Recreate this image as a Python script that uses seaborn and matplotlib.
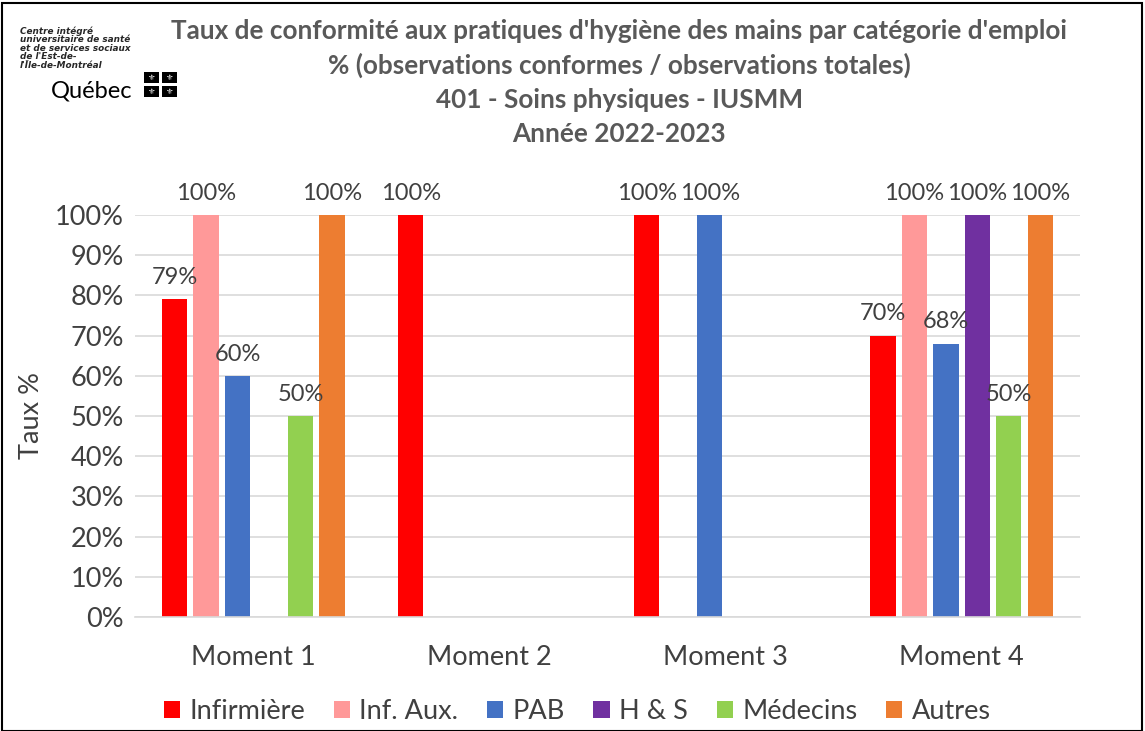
import numpy as np
import pandas as pd
import matplotlib.pyplot as plt
import seaborn as sns
from matplotlib.patches import Rectangle

moments = ["Moment 1", "Moment 2", "Moment 3", "Moment 4"]
categories = ["Infirmière", "Inf. Aux.", "PAB", "H & S", "Médecins", "Autres"]
colors = ["#FF0000", "#FF9999", "#4472C4", "#7030A0", "#92D050", "#ED7D31"]

# taux par catégorie (lignes) et par moment (colonnes), NaN = pas d'observation
infirmiere = [0.79, 1.00, 1.00, 0.70]
inf_aux = [1.00, np.nan, np.nan, 1.00]
pab = [0.60, np.nan, 1.00, 0.68]
h_s = [np.nan, np.nan, np.nan, 1.00]
medecins = [0.50, np.nan, np.nan, 0.50]
autres = [1.00, np.nan, np.nan, 1.00]

series = [infirmiere, inf_aux, pab, h_s, medecins, autres]
rows = []
for cat, vals in zip(categories, series):
    for m, v in zip(moments, vals):
        if not np.isnan(v):
            rows.append({"Moment": m, "Catégorie": cat, "Taux": v})
df = pd.DataFrame(rows)

sns.set_style("white")
plt.rcParams["font.family"] = ["Lato", "DejaVu Sans"]

fig = plt.figure(figsize=(11.45, 7.31), dpi=100)
ax = fig.add_axes([0.118, 0.156, 0.825, 0.55])

sns.barplot(data=df, x="Moment", y="Taux", hue="Catégorie", order=moments,
            hue_order=categories, palette=colors, saturation=1, width=0.8,
            gap=0.2, linewidth=0, ax=ax, legend=True)

for cont in ax.containers:
    ax.bar_label(cont, fmt=lambda v: f"{v:.0%}", padding=8, fontsize=17,
                 color="#404040")

ax.set_ylim(0, 1)
ax.set_yticks(np.arange(0, 1.01, 0.1))
ax.set_yticklabels([f"{int(t)}%" for t in np.arange(0, 101, 10)])
ax.tick_params(axis="both", labelsize=19.5, labelcolor="#404040", length=0)
ax.tick_params(axis="x", pad=20)
ax.tick_params(axis="y", pad=8)
ax.yaxis.grid(True, color="#D9D9D9", linewidth=1.2)
ax.set_axisbelow(True)
for s in ["top", "right", "left"]:
    ax.spines[s].set_visible(False)
ax.spines["bottom"].set_color("#D9D9D9")
ax.spines["bottom"].set_linewidth(1.2)
ax.set_xlabel("")
ax.set_ylabel("Taux %", fontsize=19.5, color="#404040", labelpad=8)

leg = ax.legend(loc="center", bbox_to_anchor=(0.468, -0.235), ncol=6,
                frameon=False, fontsize=19.5, handlelength=0.6,
                handleheight=0.6, columnspacing=1.05, handletextpad=0.35)
for t in leg.get_texts():
    t.set_color("#404040")

title_lines = [
    "Taux de conformité aux pratiques d'hygiène des mains par catégorie d'emploi",
    "% (observations conformes / observations totales)",
    "401 - Soins physiques - IUSMM",
    "Année 2022-2023",
]
for i, line in enumerate(title_lines):
    fig.text(0.541, 1 - (31 + 34.5 * i) / 731, line, ha="center", va="center",
             fontsize=18.8, fontweight="bold", color="#595959")

# logo CIUSSS
fig.text(20 / 1145, 1 - 26 / 731,
         "Centre intégré\nuniversitaire de santé\net de services sociaux\nde l'Est-de-\nl'Île-de-Montréal",
         ha="left", va="top", fontsize=6.4, fontweight="bold", style="italic",
         linespacing=0.95, family=["DejaVu Sans"])
fig.text(51 / 1145, 1 - 91 / 731, "Québec", ha="left", va="center",
         fontsize=17, color="black", family=["Lato", "DejaVu Sans"])
for (x0, y0) in [(144, 72), (162, 72), (144, 86), (162, 86)]:
    fig.patches.append(Rectangle((x0 / 1145, 1 - (y0 + 11) / 731), 15 / 1145,
                                 11 / 731, transform=fig.transFigure,
                                 facecolor="black", edgecolor="none"))
    fig.text((x0 + 7.5) / 1145, 1 - (y0 + 5.5) / 731, "⚜", ha="center",
             va="center", fontsize=6, color="white", family=["DejaVu Sans"])

fig.patches.append(Rectangle((0.002, 0.0), 0.995, 0.996,
                             transform=fig.transFigure, fill=False,
                             edgecolor="black", linewidth=1.5))

plt.savefig("out.png", dpi=100)
